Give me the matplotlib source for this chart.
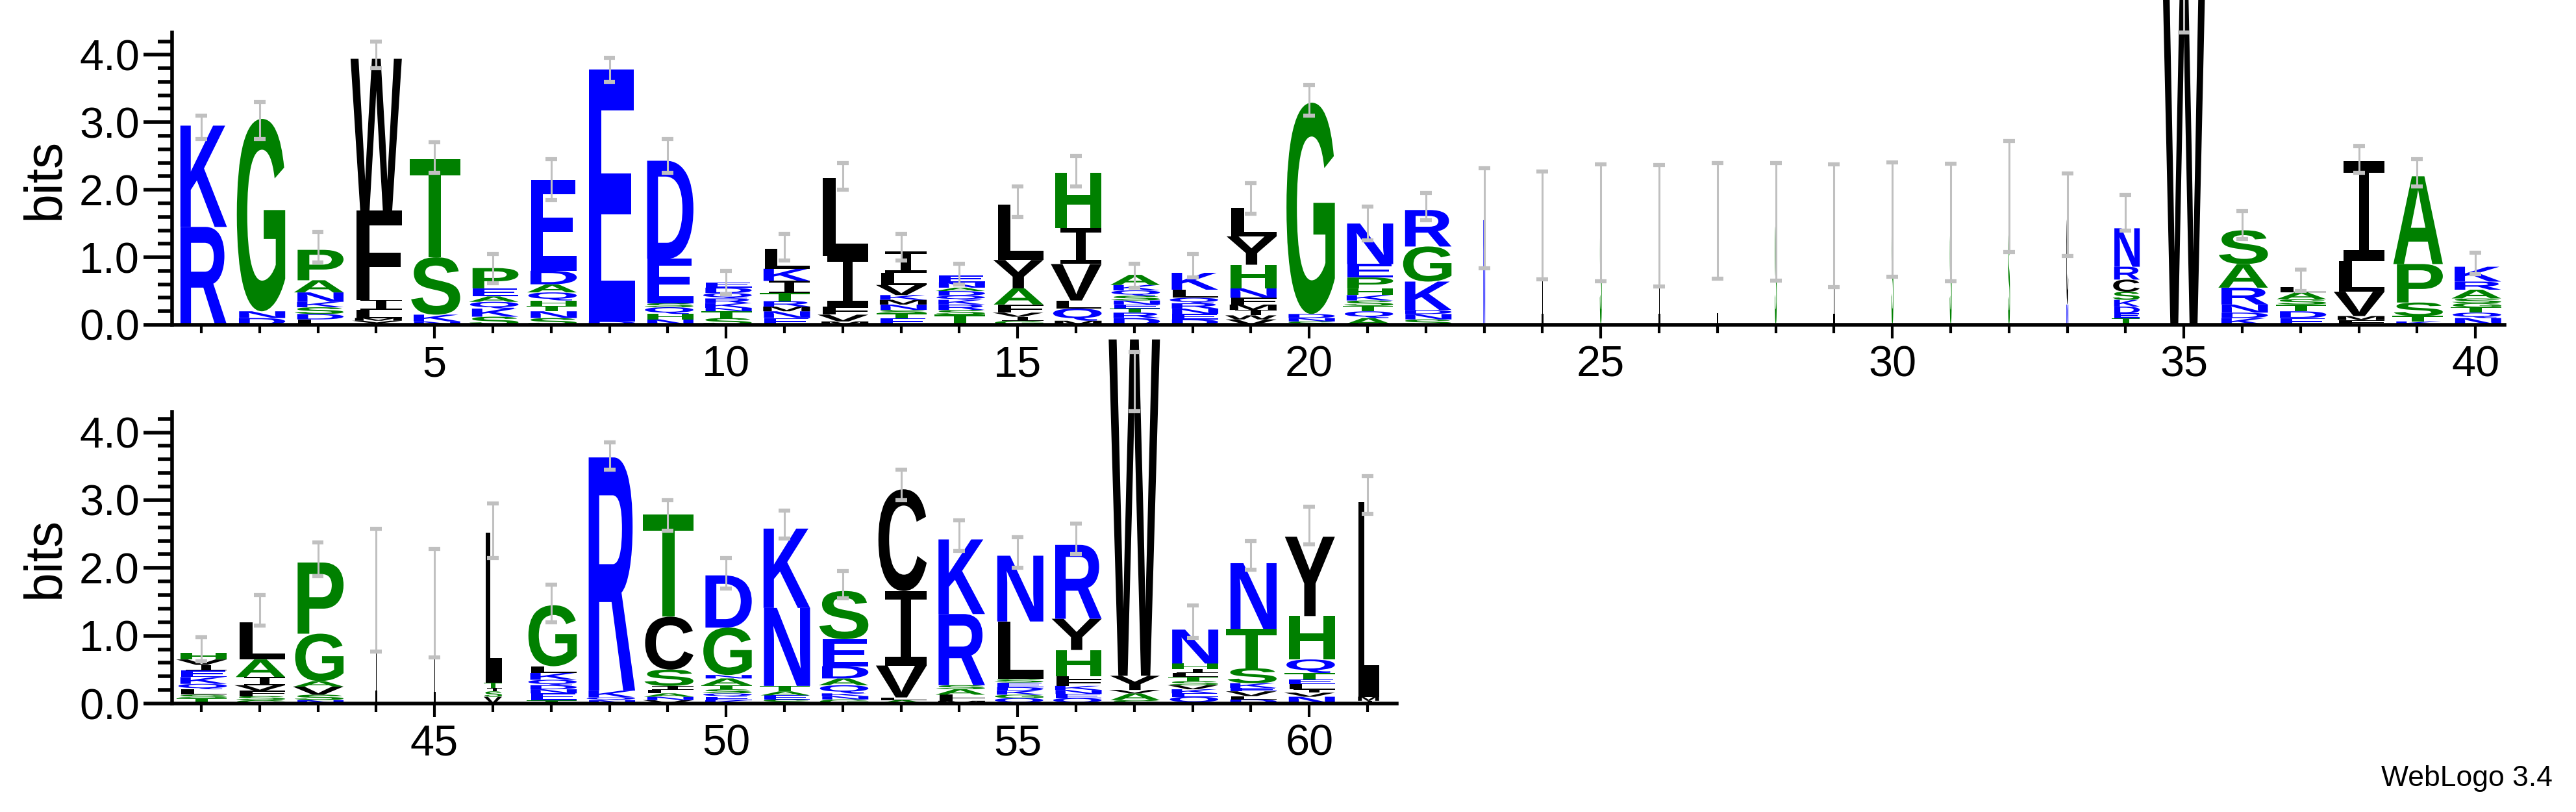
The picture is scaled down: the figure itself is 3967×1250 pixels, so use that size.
import matplotlib
matplotlib.use("Agg")
import matplotlib.pyplot as plt
from matplotlib.textpath import TextPath
from matplotlib.font_manager import FontProperties
from matplotlib.path import Path
from matplotlib.patches import PathPatch
from matplotlib.ticker import MultipleLocator, FixedLocator
import numpy as np

plt.rcParams['font.family'] = ['Liberation Sans', 'DejaVu Sans']

# ---- data: stacks bottom->top (letter, bits) ----
positions = list(range(1, 62))
stacks = {
 1: [('R',1.45),('K',1.5)],
 2: [('D',0.1),('N',0.1),('G',2.85)],
 3: [('L',0.08),('D',0.08),('S',0.1),('K',0.08),('N',0.14),('A',0.18),('P',0.45)],
 4: [('Y',0.06),('M',0.04),('L',0.12),('I',0.15),('F',1.32),('W',2.25)],
 5: [('N',0.05),('K',0.1),('S',0.85),('T',1.45)],
 6: [('S',0.12),('K',0.12),('Q',0.1),('A',0.08),('E',0.12),('P',0.3)],
 7: [('S',0.1),('N',0.1),('T',0.08),('H',0.08),('Q',0.12),('A',0.12),('D',0.2),('E',1.35)],
 8: [('D',0.05),('E',3.73)],
 9: [('N',0.08),('H',0.08),('Q',0.1),('S',0.06),('E',0.66),('D',1.45)],
 10: [('S',0.1),('T',0.1),('N',0.05),('K',0.07),('R',0.07),('Q',0.08),('D',0.08),('E',0.08)],
 11: [('E',0.1),('N',0.1),('M',0.07),('R',0.08),('T',0.12),('I',0.18),('K',0.18),('L',0.3)],
 12: [('M',0.05),('V',0.1),('F',0.12),('I',0.75),('L',1.15)],
 13: [('E',0.1),('T',0.07),('S',0.05),('N',0.08),('M',0.07),('K',0.07),('V',0.15),('L',0.18),('I',0.32)],
 14: [('T',0.15),('S',0.07),('R',0.08),('K',0.07),('Q',0.06),('D',0.07),('A',0.05),('N',0.08),('E',0.1)],
 15: [('G',0.06),('I',0.06),('V',0.06),('F',0.12),('A',0.24),('Y',0.42),('L',0.82)],
 16: [('M',0.06),('Q',0.18),('L',0.12),('V',0.54),('I',0.53),('H',0.82)],
 17: [('D',0.1),('R',0.08),('T',0.06),('E',0.06),('N',0.06),('S',0.07),('Q',0.08),('K',0.08),('A',0.15)],
 18: [('D',0.08),('E',0.08),('N',0.08),('R',0.08),('Q',0.08),('L',0.12),('K',0.25)],
 19: [('V',0.08),('W',0.06),('I',0.08),('M',0.08),('F',0.1),('N',0.14),('H',0.35),('Y',0.42),('L',0.42)],
 20: [('S',0.05),('N',0.05),('D',0.06),('G',3.13)],
 21: [('A',0.1),('Q',0.1),('T',0.08),('S',0.08),('K',0.08),('H',0.1),('P',0.16),('E',0.2),('N',0.6)],
 22: [('S',0.08),('N',0.08),('D',0.06),('K',0.42),('G',0.52),('R',0.54)],
 23: [('N',1.55)], 24: [('I',1.45)], 25: [('S',1.5)], 26: [('I',1.45)],
 27: [('I',1.55)], 28: [('S',1.5)], 29: [('I',1.45)], 30: [('S',1.55)],
 31: [('S',1.45)], 32: [('S',1.4),('I',0.56)], 33: [('N',0.3),('C',1.33)],
 34: [('T',0.1),('E',0.07),('D',0.1),('K',0.1),('S',0.12),('C',0.18),('R',0.19),('N',0.57)],
 35: [('W',5.4)],
 36: [('K',0.1),('D',0.08),('N',0.12),('R',0.25),('A',0.35),('S',0.5)],
 37: [('E',0.1),('D',0.1),('T',0.1),('S',0.08),('A',0.1),('L',0.08)],
 38: [('F',0.07),('M',0.06),('V',0.36),('L',0.45),('I',1.48)],
 39: [('K',0.05),('T',0.08),('S',0.2),('P',0.57),('A',1.3)],
 40: [('N',0.1),('Q',0.08),('T',0.08),('G',0.06),('S',0.07),('A',0.13),('R',0.12),('K',0.22)],
 41: [('T',0.08),('S',0.05),('L',0.08),('Q',0.08),('K',0.1),('E',0.1),('I',0.08),('V',0.08),('H',0.1)],
 42: [('G',0.05),('S',0.06),('F',0.08),('V',0.08),('I',0.12),('A',0.26),('L',0.55)],
 43: [('N',0.05),('S',0.08),('V',0.12),('A',0.08),('G',0.7),('P',1.05)],
 44: [('I',1.67)],
 45: [('I',1.53)],
 46: [('V',0.1),('S',0.08),('I',0.05),('T',0.08),('L',2.21)],
 47: [('T',0.05),('E',0.1),('N',0.06),('D',0.06),('Q',0.08),('K',0.1),('L',0.1),('G',0.9)],
 48: [('N',0.05),('Q',0.04),('K',0.1),('R',3.44)],
 49: [('V',0.05),('N',0.05),('A',0.05),('L',0.05),('I',0.06),('S',0.24),('C',0.78),('T',1.51)],
 50: [('K',0.05),('E',0.05),('Q',0.05),('S',0.06),('T',0.06),('A',0.1),('N',0.05),('G',0.7),('D',0.77)],
 51: [('S',0.06),('E',0.06),('A',0.06),('T',0.08),('N',1.15),('K',1.17)],
 52: [('G',0.06),('N',0.05),('K',0.04),('Q',0.12),('A',0.1),('D',0.18),('E',0.4),('S',0.71)],
 53: [('A',0.05),('L',0.04),('V',0.47),('I',1.1),('C',1.5)],
 54: [('M',0.04),('F',0.04),('L',0.05),('A',0.08),('S',0.06),('R',1.05),('K',1.1)],
 55: [('Q',0.08),('G',0.05),('K',0.06),('D',0.05),('E',0.07),('S',0.05),('L',0.85),('N',0.97)],
 56: [('Q',0.08),('E',0.06),('N',0.06),('K',0.06),('F',0.1),('L',0.04),('H',0.39),('Y',0.46),('R',1.09)],
 57: [('S',0.05),('A',0.1),('V',0.05),('Y',0.21),('W',4.96)],
 58: [('Q',0.1),('E',0.05),('K',0.06),('V',0.06),('S',0.06),('T',0.06),('L',0.06),('I',0.06),('H',0.08),('N',0.5)],
 59: [('D',0.06),('L',0.05),('V',0.07),('E',0.05),('K',0.07),('S',0.22),('T',0.58),('N',0.97)],
 60: [('N',0.1),('V',0.06),('I',0.05),('L',0.08),('E',0.06),('T',0.1),('Q',0.2),('H',0.64),('Y',1.17)],
 61: [('I',0.04),('M',0.06),('L',2.87)],
}
# column width fraction (gap-adjusted)
col_width = {23:0.04,24:0.04,25:0.04,26:0.04,27:0.04,28:0.04,29:0.04,30:0.04,
             31:0.04,32:0.04,33:0.04,34:0.55,35:0.85,44:0.04,45:0.04,46:0.36,61:0.45}
err_low = [2.75,2.75,0.92,3.8,2.25,0.62,1.85,3.6,2.25,0.45,0.95,2.0,0.95,0.6,1.6,2.05,0.55,0.7,1.65,3.1,
           1.25,1.55,0.84,0.67,0.64,0.57,0.68,0.65,0.56,0.71,0.64,1.08,1.02,1.4,4.33,1.27,0.5,2.25,2.05,0.75,
           0.62,1.15,1.88,0.77,0.68,2.15,1.2,3.45,2.55,1.7,2.43,1.55,3.0,2.25,2.0,2.2,4.31,0.97,1.97,2.35,2.8]
err_high = [3.1,3.3,1.38,4.2,2.7,1.05,2.45,3.95,2.75,0.8,1.35,2.4,1.35,0.9,2.05,2.5,0.9,1.05,2.1,3.55,
            1.75,1.95,2.32,2.27,2.38,2.37,2.4,2.4,2.38,2.41,2.39,2.72,2.24,1.92,5.2,1.68,0.82,2.65,2.45,1.07,
            0.98,1.6,2.38,2.58,2.28,2.95,1.75,3.85,3.0,2.15,2.85,1.95,3.45,2.7,2.45,2.65,5.18,1.45,2.4,2.9,3.35]

GREEN = set('GSTAPH'); BLUE = set('KRNDEQ')
def color(l):
    return '#008000' if l in GREEN else ('#0000ff' if l in BLUE else 'black')

fp = FontProperties(family='Liberation Sans', weight='bold')
fp_serif_I = FontProperties(family='DejaVu Sans Mono', weight='normal')
glyphs = {}
def glyph(l):
    if l not in glyphs:
        tp = TextPath((0, 0), l, size=1, prop=fp_serif_I if l == 'I' else fp)
        v = tp.vertices.copy()
        x0, y0 = v.min(axis=0); x1, y1 = v.max(axis=0)
        v[:, 0] = (v[:, 0] - x0) / (x1 - x0)
        v[:, 1] = (v[:, 1] - y0) / (y1 - y0)
        glyphs[l] = (v, tp.codes)
    return glyphs[l]

fig = plt.figure(figsize=(39.67, 12.5), dpi=100)
ax1 = fig.add_axes([0.0668, 0.6, 0.9055, 0.36])
ax2 = fig.add_axes([0.0668, 0.1336, 0.4754, 0.359])

def draw(ax, p):
    w = 0.88 * col_width.get(p, 1.0)
    y = 0.0
    for l, h in stacks[p]:
        v, c = glyph(l)
        vv = v.copy()
        vv[:, 0] = p - w / 2 + vv[:, 0] * w
        vv[:, 1] = y + vv[:, 1] * h
        ax.add_patch(PathPatch(Path(vv, c), facecolor=color(l), edgecolor='none', clip_on=False, zorder=2))
        y += h
    lo, hi = err_low[p - 1], err_high[p - 1]
    ax.plot([p, p], [lo, hi], color='#c0c0c0', lw=2.2, zorder=3, clip_on=False, solid_capstyle='butt')
    for yy in (lo, hi):
        ax.plot([p - 0.1, p + 0.1], [yy, yy], color='#c0c0c0', lw=4.5, zorder=3, clip_on=False, solid_capstyle='butt')

for ax, rng, xl, ymax, majors in [(ax1, range(1, 41), (0.5, 40.5), 4.33, [5,10,15,20,25,30,35,40]),
                                  (ax2, range(41, 62), (40.5, 61.5), 4.30, [45,50,55,60])]:
    for p in rng:
        draw(ax, p)
    ax.set_xlim(*xl); ax.set_ylim(0, ymax)
    for s in ('top', 'right'):
        ax.spines[s].set_visible(False)
    ax.spines['left'].set_linewidth(4); ax.spines['bottom'].set_linewidth(4)
    ax.xaxis.set_major_locator(FixedLocator(majors))
    ax.xaxis.set_minor_locator(MultipleLocator(1))
    ax.yaxis.set_major_locator(FixedLocator([0, 1, 2, 3, 4]))
    ax.yaxis.set_minor_locator(MultipleLocator(0.2))
    ax.set_yticklabels(['0.0', '1.0', '2.0', '3.0', '4.0'])
    ax.tick_params(axis='y', which='major', length=32, width=4, labelsize=48, pad=4)
    ax.tick_params(axis='y', which='minor', length=16, width=4)
    ax.tick_params(axis='x', which='major', length=15, width=3, labelsize=48, pad=8)
    ax.tick_params(axis='x', which='minor', length=9, width=3)
    ax.set_ylabel('bits', fontsize=58, labelpad=10)
    ax.patch.set_alpha(0)

fig.text(0.991, 0.025, 'WebLogo 3.4', ha='right', va='bottom', fontsize=32)
fig.savefig('out.png', dpi=100)
